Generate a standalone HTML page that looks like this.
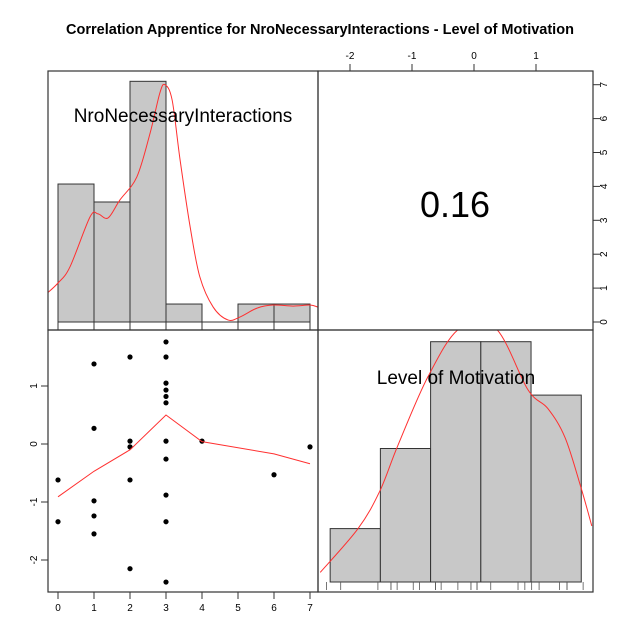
<!DOCTYPE html>
<html><head><meta charset="utf-8"><style>
html,body{margin:0;padding:0;background:#fff}
svg{display:block;font-family:"Liberation Sans",Arial,sans-serif}
</style></head><body>
<svg id="c" width="640" height="640" viewBox="0 0 640 640"></svg>
<script>
// ---- data ----
const nroBinCounts = [4.07, 3.54, 7.1, 0.53, 0, 0.53, 0.53];
const nroDensX = [-0.3,0,0.33,0.89,1.11,1.39,1.72,2.19,2.56,2.83,2.97,3.17,3.39,3.67,3.94,4.31,4.72,5.06,5.53,5.97,6.53,7.0,7.22];
const nroDensY = [0.85,1.15,1.62,3.1,3.19,3.07,3.6,4.28,5.58,6.76,7.0,6.55,4.79,2.81,1.33,0.44,0.06,0.15,0.41,0.5,0.47,0.5,0.44];
const nroVals = [0,0,1,1,1,1,1,2,2,2,2,2,3,3,3,3,3,3,3,3,3,3,3,4,6,7];
const motVals = [-0.62,-1.34,1.38,0.27,-0.98,-1.24,-1.55,1.5,0.05,-0.05,-0.62,-2.15,1.76,1.5,1.05,0.93,0.82,0.71,0.05,-0.26,-0.88,-1.34,-2.38,0.05,-0.53,-0.05];
const loessX = [0,1,2,3,4,6,7];
const loessY = [-0.91,-0.47,-0.1,0.5,0.04,-0.17,-0.34];
const motBinEdges = [-2.32,-1.51,-0.70,0.11,0.92,1.73];
const motBinCounts = [2,5,9,9,7];
const motDensX = [-2.48,-1.87,-1.52,-1.23,-0.74,-0.23,0.35,0.87,1.19,1.47,1.73,1.90];
const motDensY = [0.36,2.0,3.4,5.1,7.7,9.5,9.5,7.2,6.5,5.4,3.5,2.1];
const corrValue = "0.16";
const nroTicks = [0,1,2,3,4,5,6,7];
const motTicks = [-2,-1,0,1];
const countTicks = [0,1,2,3,4,5,6,7];

// ---- scales ----
const sx1 = v => 58 + v*36;
const sy2 = v => 444 - v*58;
const sc1 = v => 322 - v*33.9;
const sx2 = v => 474 + v*62;
const sc2 = v => 582 - v*26.7;

const NS="http://www.w3.org/2000/svg", svg=document.getElementById('c');
function mk(tag, attrs, parent){const e=document.createElementNS(NS,tag);for(const k in attrs)e.setAttribute(k,attrs[k]);(parent||svg).appendChild(e);return e;}
function txt(s, attrs, parent){const e=mk('text',attrs,parent);e.textContent=s;return e;}
function smooth(pts){
  let s='M'+pts[0][0]+' '+pts[0][1];
  for(let i=0;i<pts.length-1;i++){
    const p0=pts[Math.max(0,i-1)],p1=pts[i],p2=pts[i+1],p3=pts[Math.min(pts.length-1,i+2)];
    const c1=[p1[0]+(p2[0]-p0[0])/6,p1[1]+(p2[1]-p0[1])/6];
    const c2=[p2[0]-(p3[0]-p1[0])/6,p2[1]-(p3[1]-p1[1])/6];
    s+=` C${c1[0]} ${c1[1]} ${c2[0]} ${c2[1]} ${p2[0]} ${p2[1]}`;
  }
  return s;
}

const defs=mk('defs',{});
const cp1=mk('clipPath',{id:'p1'},defs); mk('rect',{x:48,y:71,width:270,height:259},cp1);
const cp4=mk('clipPath',{id:'p4'},defs); mk('rect',{x:318,y:330,width:275,height:262},cp4);

let t=txt('Correlation Apprentice for NroNecessaryInteractions - Level of Motivation',{x:320,y:34,'text-anchor':'middle','font-size':14.5,'font-weight':'bold'});



// --- panel 1 ---
const g1=mk('g',{'clip-path':'url(#p1)'});


nroBinCounts.forEach((c,i)=>{ if(c<=0) return;
  const r=mk('rect',{x:sx1(i),y:sc1(c),width:sx1(i+1)-sx1(i),height:sc1(0)-sc1(c),fill:'#c8c8c8',stroke:'#333','stroke-width':1},g1);
  
  
});
mk('line',{x1:sx1(0),x2:sx1(7),y1:322,y2:322,stroke:'#333'},g1);
let d=mk('path',{d:smooth(nroDensX.map((x,i)=>[sx1(x),sc1(nroDensY[i])])),fill:'none',stroke:'#ff3030','stroke-width':1},g1);


nroTicks.forEach(v=>{ mk('line',{x1:sx1(v),x2:sx1(v),y1:322,y2:330,stroke:'#333'}); });
t=txt('NroNecessaryInteractions',{x:183,y:122,'text-anchor':'middle','font-size':19});



// --- panel 2 ---
t=txt(corrValue,{x:455,y:217,'text-anchor':'middle','font-size':36});



// --- panel 3 ---
const g3=mk('g',{});


nroVals.forEach((x,i)=>{
  const p=mk('circle',{cx:sx1(x),cy:sy2(motVals[i]),r:2.6,fill:'#000'},g3);
  
  
});
d=mk('path',{d:loessX.map((x,i)=>(i?'L':'M')+sx1(x)+' '+sy2(loessY[i])).join(' '),fill:'none',stroke:'#ff3030','stroke-width':1},g3);



// --- panel 4 ---
const g4=mk('g',{'clip-path':'url(#p4)'});


motBinCounts.forEach((c,i)=>{
  const r=mk('rect',{x:sx2(motBinEdges[i]),y:sc2(c),width:sx2(motBinEdges[i+1])-sx2(motBinEdges[i]),height:sc2(0)-sc2(c),fill:'#c8c8c8',stroke:'#333','stroke-width':1},g4);
  
  
});
d=mk('path',{d:smooth(motDensX.map((x,i)=>[sx2(x),sc2(motDensY[i])])),fill:'none',stroke:'#ff3030','stroke-width':1},g4);


motVals.forEach(v=>{ mk('line',{x1:sx2(v),x2:sx2(v),y1:582,y2:590,stroke:'#555','stroke-width':0.8},g4); });
t=txt('Level of Motivation',{x:456,y:384,'text-anchor':'middle','font-size':19});



[[48,71,270,259],[318,71,275,259],[48,330,270,262],[318,330,275,262]].forEach((r,i)=>{
  const f=mk('rect',{x:r[0],y:r[1],width:r[2],height:r[3],fill:'none',stroke:'#333','stroke-width':1.2});
  
  
});

mk('line',{x1:sx1(0),x2:sx1(7),y1:592,y2:592,stroke:'#333'});
nroTicks.forEach(v=>{ mk('line',{x1:sx1(v),x2:sx1(v),y1:592,y2:599,stroke:'#333'});
  const l=txt(v,{x:sx1(v),y:611,'text-anchor':'middle','font-size':10});
  
  });
mk('line',{x1:48,x2:48,y1:sy2(-2),y2:sy2(1),stroke:'#333'});
motTicks.forEach(v=>{ mk('line',{x1:41,x2:48,y1:sy2(v),y2:sy2(v),stroke:'#333'});
  const l=txt(v,{x:0,y:0,'text-anchor':'middle','font-size':10,transform:`translate(37,${sy2(v)}) rotate(-90)`});
  
  });
mk('line',{x1:sx2(-2),x2:sx2(1),y1:71,y2:71,stroke:'#333'});
motTicks.forEach(v=>{ mk('line',{x1:sx2(v),x2:sx2(v),y1:64,y2:71,stroke:'#333'});
  const l=txt(v,{x:sx2(v),y:59,'text-anchor':'middle','font-size':10});
  
  });
mk('line',{x1:593,x2:593,y1:sc1(0),y2:sc1(7),stroke:'#333'});
countTicks.forEach(v=>{ mk('line',{x1:593,x2:600,y1:sc1(v),y2:sc1(v),stroke:'#333'});
  const l=txt(v,{x:0,y:0,'text-anchor':'middle','font-size':10,transform:`translate(607,${sc1(v)}) rotate(-90)`});
  
  });
</script>
</body></html>
